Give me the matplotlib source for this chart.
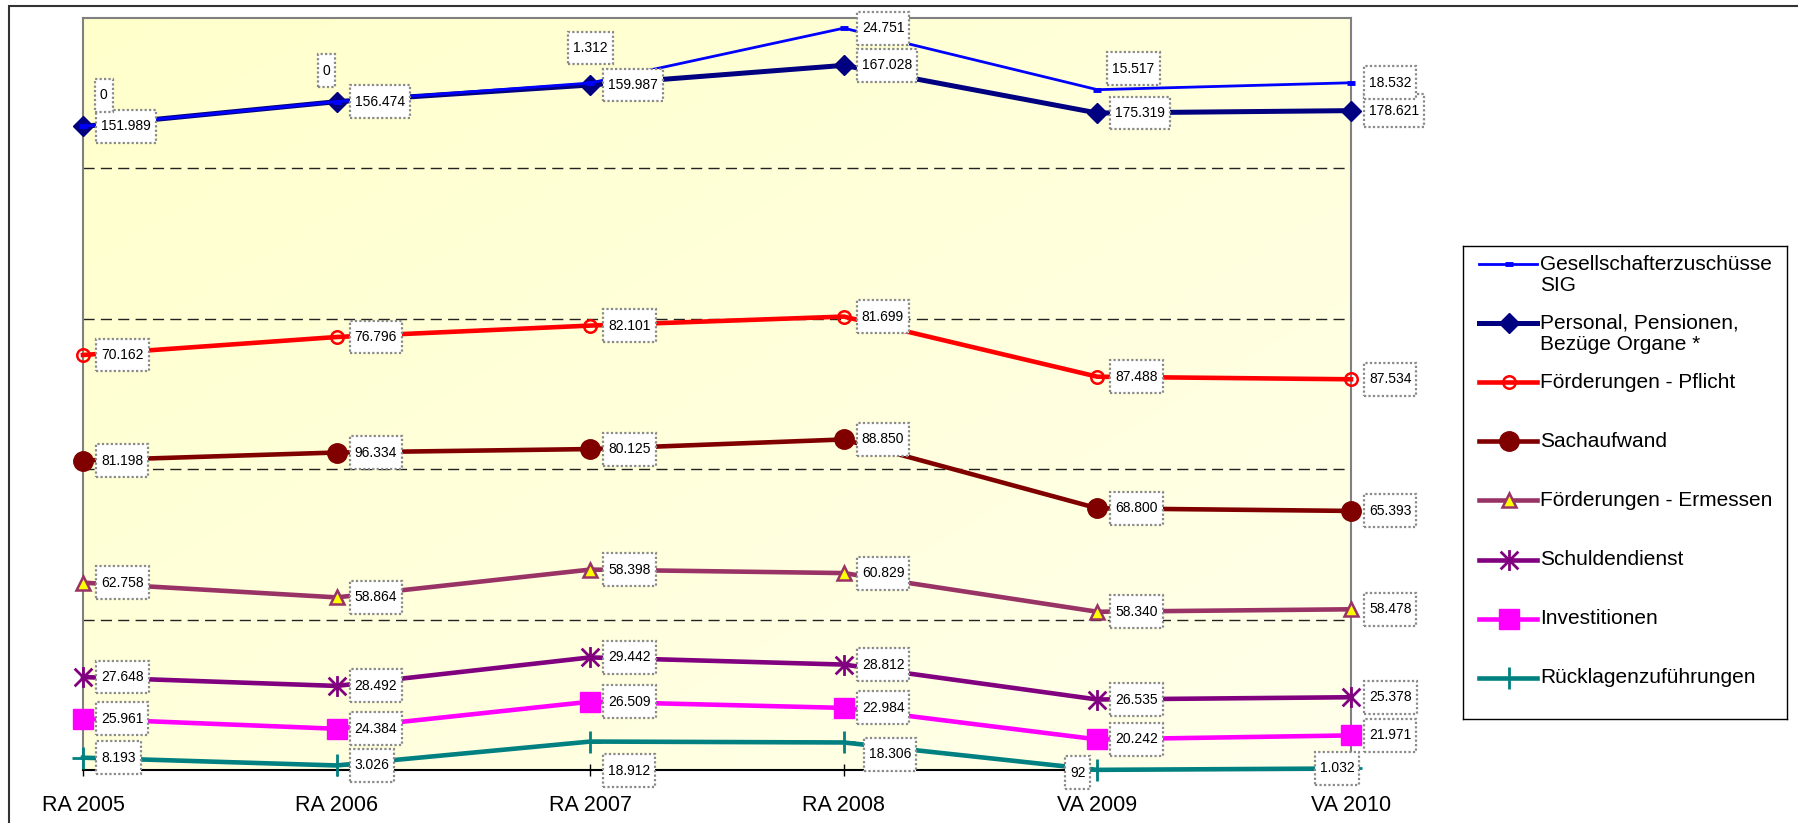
import matplotlib.pyplot as plt
import numpy as np
from matplotlib.path import Path
from matplotlib.patches import Rectangle

plt.rcParams['font.family'] = ['Liberation Sans', 'DejaVu Sans']

years = ['RA 2005', 'RA 2006', 'RA 2007', 'RA 2008', 'VA 2009', 'VA 2010']

# values in 1.000 EUR, listed from the bottom of the stack upwards
ruecklagen = [8193, 3026, 18912, 18306, 92, 1032]
investitionen = [25961, 24384, 26509, 22984, 20242, 21971]
schuldendienst = [27648, 28492, 29442, 28812, 26535, 25378]
ermessen = [62758, 58864, 58398, 60829, 58340, 58478]
sachaufwand = [81198, 96334, 80125, 88850, 68800, 65393]
pflicht = [70162, 76796, 82101, 81699, 87488, 87534]
personal = [151989, 156474, 159987, 167028, 175319, 178621]
gesellschafter = [0, 0, 1312, 24751, 15517, 18532]

names = ['Rücklagenzuführungen', 'Investitionen', 'Schuldendienst',
         'Förderungen - Ermessen', 'Sachaufwand', 'Förderungen - Pflicht',
         'Personal, Pensionen,\nBezüge Organe *', 'Gesellschafterzuschüsse\nSIG']
series = [ruecklagen, investitionen, schuldendienst, ermessen, sachaufwand,
          pflicht, personal, gesellschafter]

# asterisk like the excel "star" marker: vertical bar + X
star = Path([(0, -1), (0, 1), (-0.85, -0.85), (0.85, 0.85), (-0.85, 0.85), (0.85, -0.85)],
            [Path.MOVETO, Path.LINETO] * 3)

styles = [
    dict(color='#008080', lw=3.3, marker='+', ms=16, mew=2),
    dict(color='#FF00FF', lw=3.3, marker='s', ms=14),
    dict(color='#800080', lw=3.3, marker=star, ms=15, mew=2),
    dict(color='#993366', lw=3.3, marker='^', ms=10, mfc='#FFFF00', mec='#993366', mew=1.8),
    dict(color='#800000', lw=3.3, marker='o', ms=14),
    dict(color='#FF0000', lw=3.3, marker='o', ms=9, mfc='none', mew=1.8),
    dict(color='#000080', lw=3.6, marker='D', ms=10),
    dict(color='#0000FF', lw=2, marker='_', ms=6, mew=3.5),
]

# label text offsets in pixels (dx, dy up, ha) where the default did not fit
label_pos = {
    (7, 0): (17, 31, 'left'),
    (7, 1): (-14, 31, 'left'),
    (7, 2): (0, 35, 'center'),
    (7, 4): (15, 21, 'left'),
    (0, 2): (18, -29, 'left'),
    (0, 3): (25, -12, 'left'),
    (0, 4): (-12, -3, 'right'),
    (0, 5): (-14, 0, 'center'),
}


def fmt(v):
    return f'{v:,}'.replace(',', '.')


def label_box(x0, y0, width, height, mutation_size):
    # excel-like label frame: narrow side padding, tall top/bottom padding
    px = 0.36 * mutation_size
    py = 0.68 * mutation_size
    return Path([(x0 - px, y0 - py), (x0 + width + px, y0 - py),
                 (x0 + width + px, y0 + height + py), (x0 - px, y0 + height + py),
                 (x0 - px, y0 - py)], closed=True)


fig = plt.figure(figsize=(17.98, 8.23), dpi=100)
ax = fig.add_axes([83 / 1798, 1 - 770 / 823, 1268 / 1798, 752 / 823])

# pale yellow gradient background
g = np.linspace(0, 1, 200)
gx, gy = np.meshgrid(g, g)
t = ((gx + gy) / 2)[..., None]
c0 = np.array([1.0, 1.0, 0.80])
c1 = np.array([1.0, 1.0, 0.92])
ax.imshow(c0 + (c1 - c0) * t, extent=(0, 1, 0, 1), transform=ax.transAxes,
          aspect='auto', zorder=0)

x = np.arange(len(years))
stack = np.cumsum(np.array(series), axis=0)

for k, (vals, top, st) in enumerate(zip(series, stack, styles)):
    ax.plot(x, top, clip_on=False, zorder=3 + k * 0.1, **st)
    for i, v in enumerate(vals):
        dx, dy, ha = label_pos.get((k, i), (18, 0, 'left'))
        ax.annotate(fmt(v), (i, top[i]), xytext=(dx * 0.72, dy * 0.72),
                    textcoords='offset points', ha=ha, va='center', fontsize=10,
                    bbox=dict(boxstyle=label_box, fc='white', ec='#8a8a8a',
                              lw=1.6, ls=(0, (1, 1))),
                    zorder=10, annotation_clip=False)

ax.set_xlim(0, 5)
ax.set_ylim(0, 500000)
ax.set_yticks([100000, 200000, 300000, 400000])
ax.set_yticklabels([])
ax.tick_params(axis='y', length=0)
ax.yaxis.grid(True, color='#222222', lw=1, dashes=(8, 4.5))
ax.set_axisbelow(True)
ax.set_xticks(x)
ax.set_xticklabels(years)
ax.tick_params(axis='x', direction='inout', length=8, width=1, pad=14, labelsize=15.5)
for s in ['left', 'top', 'right']:
    ax.spines[s].set_color('#808080')
    ax.spines[s].set_linewidth(1.5)
ax.spines['bottom'].set_color('black')
ax.spines['bottom'].set_linewidth(1.5)

# legend box drawn by hand so multi-line names keep the marker on the first line
lax = fig.add_axes([1463 / 1798, 1 - 719 / 823, 324 / 1798, 473 / 823])
lax.set_xlim(0, 324)
lax.set_ylim(473, 0)
lax.set_xticks([])
lax.set_yticks([])
for s in lax.spines.values():
    s.set_color('black')
    s.set_linewidth(1)
for j, k in enumerate(range(len(series) - 1, -1, -1)):
    y = 18 + j * 59.1
    st = dict(styles[k])
    lax.plot([16, 74], [y, y], color=st['color'], lw=st['lw'])
    st.pop('lw')
    lax.plot([46], [y], ls='none', **st)
    for n, line in enumerate(names[k].split('\n')):
        lax.text(77, y + n * 21.5, line, va='center', fontsize=15)

# outer chart frame
fig.add_artist(Rectangle((9 / 1798, -0.5), 2, 1.5 - 5.5 / 823, transform=fig.transFigure,
                         fill=False, ec='#333333', lw=1.5))

fig.savefig('out.png', dpi=100)
